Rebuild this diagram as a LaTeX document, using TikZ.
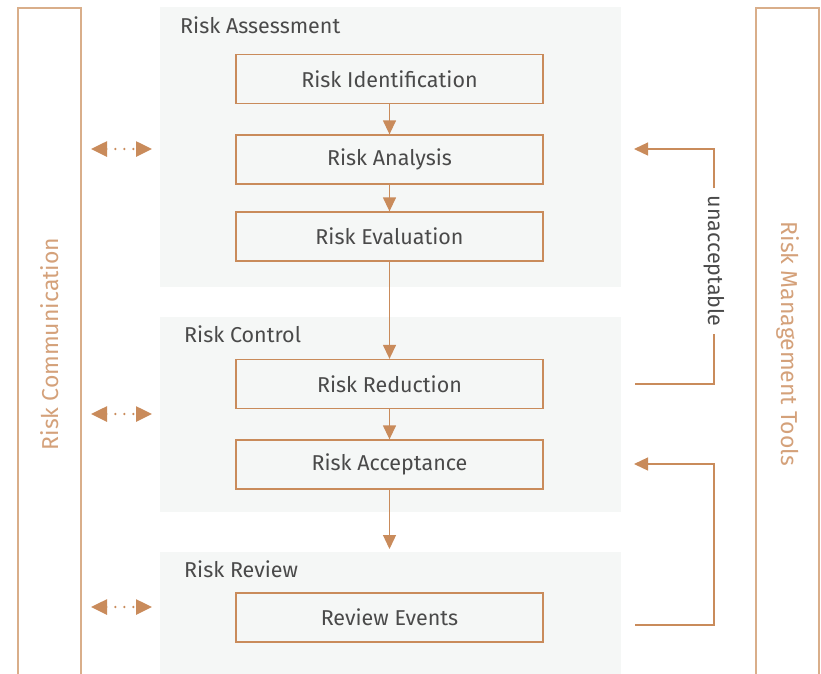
\documentclass[tikz,border=0pt]{standalone}
\usepackage{fontspec}
\setmainfont{Fira Sans}
\usetikzlibrary{arrows.meta}
\definecolor{tan}{HTML}{C98B5B}
\definecolor{lighttan}{HTML}{D9AE8A}
\definecolor{labeltan}{HTML}{D4A17A}
\definecolor{panelgray}{HTML}{F5F7F6}
\definecolor{ink}{HTML}{4A4A4A}
\tikzset{
  px/.style={x=1pt,y=-1pt},
  panel/.style={fill=panelgray,draw=none},
  bodyfont/.style={font=\fontsize{21.5}{25}\selectfont},
  stepbox/.style={draw=tan,line width=1.3pt,fill=panelgray,minimum width=307pt,minimum height=49pt,text=ink,bodyfont},
  paneltitle/.style={text=ink,bodyfont,anchor=base west,inner sep=0pt},
  flow/.style={draw=tan,line width=1.3pt,-{Triangle[length=14pt,width=13pt]}},
  sidebar/.style={draw=lighttan,line width=2pt},
  sidelabel/.style={text=labeltan,font=\fontsize{23}{27}\selectfont},
  talk/.style={draw=tan,line width=2.6pt,dash pattern=on 0pt off 9pt,line cap=round,
    {Triangle[length=16pt,width=15pt,line cap=butt]}-{Triangle[length=16pt,width=15pt,line cap=butt]}},
}
\begin{document}
\begin{tikzpicture}[px]
\useasboundingbox (0,0) rectangle (821,673);
% side bars
\draw[sidebar] (18,680) -- (18,8) -- (81,8) -- (81,680);
\draw[sidebar] (756,680) -- (756,8) -- (819,8) -- (819,680);
\node[sidelabel,rotate=90] (comm) at (50,344) {Risk Communication};
\node[sidelabel,rotate=-90] (tools) at (788,344) {Risk Management Tools};
% grey panels
\fill[panel] (160,7) rectangle (621,287);
\fill[panel] (160,317) rectangle (621,512);
\fill[panel] (160,552) rectangle (621,680);
\node[paneltitle] (t1) at (180,33) {Risk Assessment};
\node[paneltitle] (t2) at (184,342) {Risk Control};
\node[paneltitle] (t3) at (184,577) {Risk Review};
% steps
\node[stepbox] (ident) at (389.5,79) {Risk Identification};
\node[stepbox] (anal) at (389.5,159.5) {Risk Analysis};
\node[stepbox] (eval) at (389.5,236.5) {Risk Evaluation};
\node[stepbox] (reduc) at (389.5,384) {Risk Reduction};
\node[stepbox] (accept) at (389.5,464.5) {Risk Acceptance};
\node[stepbox] (review) at (389.5,617.5) {Review Events};
\coordinate (gap) at (389.5,549);
\draw[flow] (ident) -- (anal);
\draw[flow] (anal) -- (eval);
\draw[flow] (eval) -- (reduc);
\draw[flow] (reduc) -- (accept);
\draw[flow] (accept) -- (gap);
% communication links
\foreach \y/\n in {149/a,414/b,607/c}{
  \coordinate (l\n) at (91,\y);
  \coordinate (r\n) at (152,\y);
  \draw[talk] (l\n) -- (r\n);
}
% feedback loops
\coordinate (fb1s) at (635,384);
\coordinate (fb1c) at (714,384);
\coordinate (fb1t) at (714,149);
\coordinate (fb1e) at (634,149);
\node[text=ink,rotate=-90,bodyfont,inner sep=7pt] (unacc) at (714,261) {unacceptable};
\draw[tan,line width=1.3pt] (fb1s) -- (fb1c) -- (unacc.east);
\draw[flow] (unacc.west) -- (fb1t) -- (fb1e);
\coordinate (fb2s) at (635,625);
\coordinate (fb2c) at (714,625);
\coordinate (fb2t) at (714,464);
\coordinate (fb2e) at (634,464);
\draw[flow] (fb2s) -- (fb2c) -- (fb2t) -- (fb2e);
\end{tikzpicture}
\end{document}
